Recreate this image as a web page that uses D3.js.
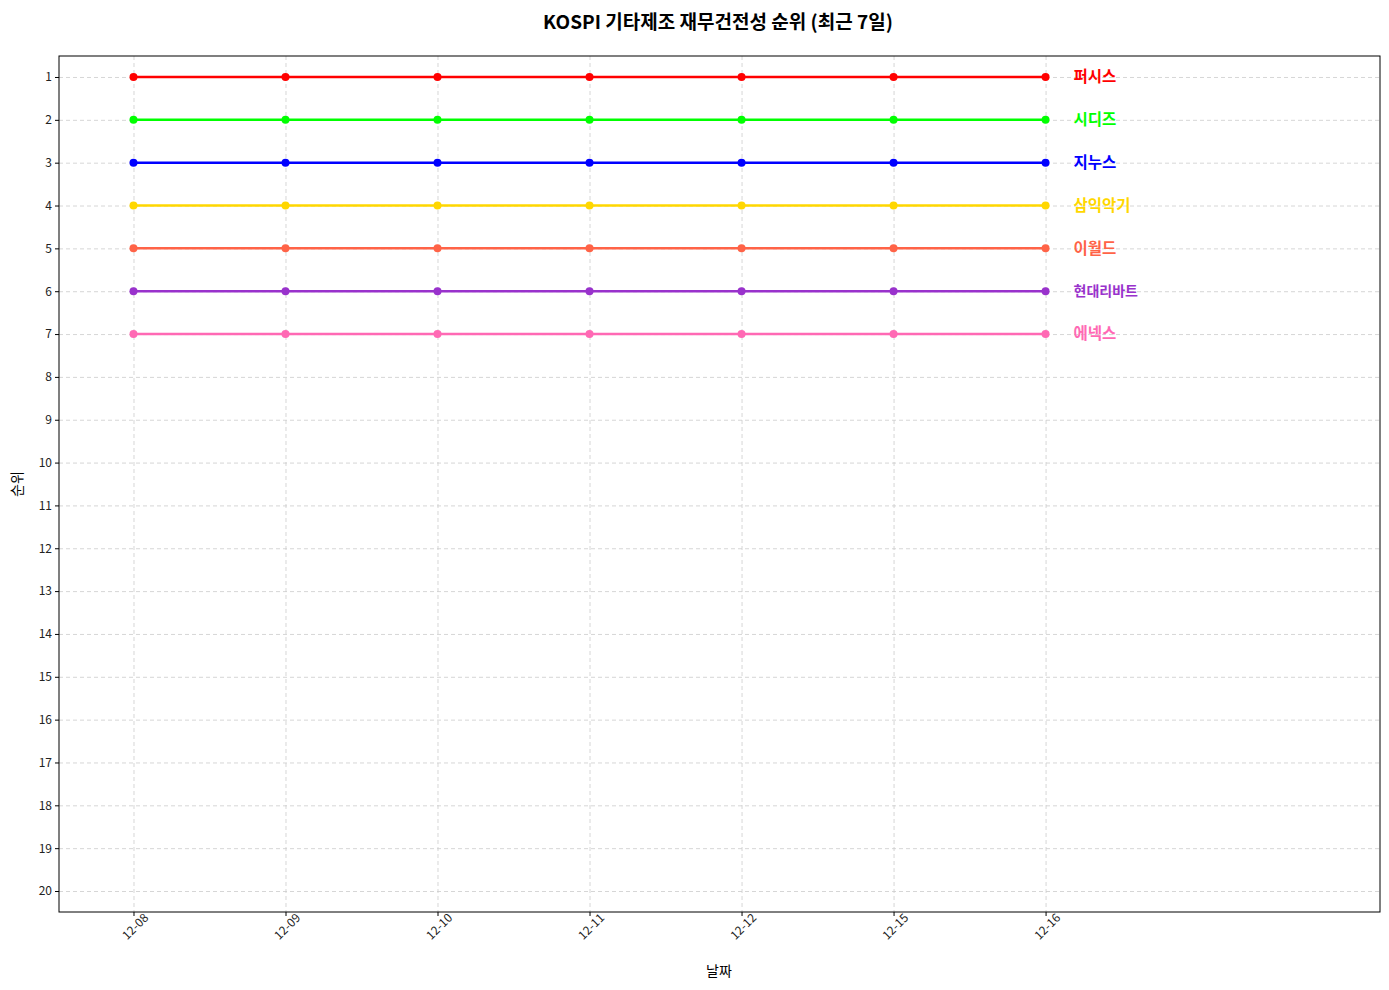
<!DOCTYPE html>
<html><head><meta charset="utf-8">
<script src="https://cdn.jsdelivr.net/npm/d3@7"></script>
<style>
body{margin:0;background:#fff;font-family:"Noto Sans CJK KR","DejaVu Sans",sans-serif;}
.grid line{stroke:#ccc;stroke-dasharray:4,3;stroke-opacity:0.8}
.grid path{display:none}
.axis text{font-size:12px;fill:#222;font-family:"Noto Sans CJK KR",sans-serif}
</style></head><body>
<script>
const dates = ['12-08','12-09','12-10','12-11','12-12','12-15','12-16'];
const names = ['퍼시스','시디즈','지누스','삼익악기','이월드','현대리바트','에넥스'];
const colors = ['#ff0000','#00ff00','#0000ff','#ffd700','#ff6347','#9932cc','#ff69b4'];
const ranks = [
  [1,1,1,1,1,1,1],
  [2,2,2,2,2,2,2],
  [3,3,3,3,3,3,3],
  [4,4,4,4,4,4,4],
  [5,5,5,5,5,5,5],
  [6,6,6,6,6,6,6],
  [7,7,7,7,7,7,7]
];
const yTicks = d3.range(1,21);

const width = 1389, height = 990;
const margin = {top:56, right:9, bottom:78, left:59};
const w = width - margin.left - margin.right;
const h = height - margin.top - margin.bottom;

const svg = d3.select('body').append('svg').attr('width',width).attr('height',height);
const chart = svg.append('g').attr('transform',`translate(${margin.left},${margin.top})`);

const x = d3.scaleLinear().domain([-0.49, 8.2]).range([0,w]);
const y = d3.scaleLinear().domain([0.51, 20.49]).range([0,h]);

chart.append('g').classed('grid',true)
  .call(d3.axisLeft(y).tickValues(yTicks).tickSize(-w).tickFormat(''));
chart.append('g').classed('grid',true)
  .call(d3.axisBottom(x).tickValues(d3.range(dates.length)).tickSize(h).tickFormat(''));

const line = d3.line().x((d,i)=>x(i)).y(d=>y(d));
ranks.forEach((r,k)=>{
  chart.append('path').datum(r).attr('d',line).attr('fill','none')
    .attr('stroke',colors[k]).attr('stroke-width',2.5);
  chart.selectAll(null).data(r).enter().append('circle')
    .attr('cx',(d,i)=>x(i)).attr('cy',d=>y(d)).attr('r',4).attr('fill',colors[k]);
  chart.append('text').attr('x',x(r.length-1)+28).attr('y',y(r[r.length-1]))
    .attr('dy','0.35em').attr('fill',colors[k]).style('font-weight','bold')
    .style('font-size', names[k].length>4?'14px':'15.5px').text(names[k]);
});

chart.append('rect').attr('width',w).attr('height',h).attr('fill','none').attr('stroke','#000');

const ya = chart.append('g').classed('axis',true)
  .call(d3.axisLeft(y).tickValues(yTicks).tickSize(4));
ya.select('.domain').remove();
const xa = chart.append('g').classed('axis',true).attr('transform',`translate(0,${h})`)
  .call(d3.axisBottom(x).tickValues(d3.range(dates.length)).tickFormat(i=>dates[i]).tickSize(4));
xa.select('.domain').remove();
xa.selectAll('text').attr('text-anchor','end').attr('dx','0.5em').attr('dy','0.7em')
  .attr('transform','rotate(-45)');

svg.append('text').attr('x',718).attr('y',29).attr('text-anchor','middle')
  .style('font-size','19px').style('font-weight','bold').text('KOSPI 기타제조 재무건전성 순위 (최근 7일)');
svg.append('text').attr('x',719).attr('y',976).attr('text-anchor','middle')
  .style('font-size','14px').text('날짜');
svg.append('text').attr('transform','translate(22,484) rotate(-90)').attr('text-anchor','middle')
  .style('font-size','14px').text('순위');
</script>
</body></html>
